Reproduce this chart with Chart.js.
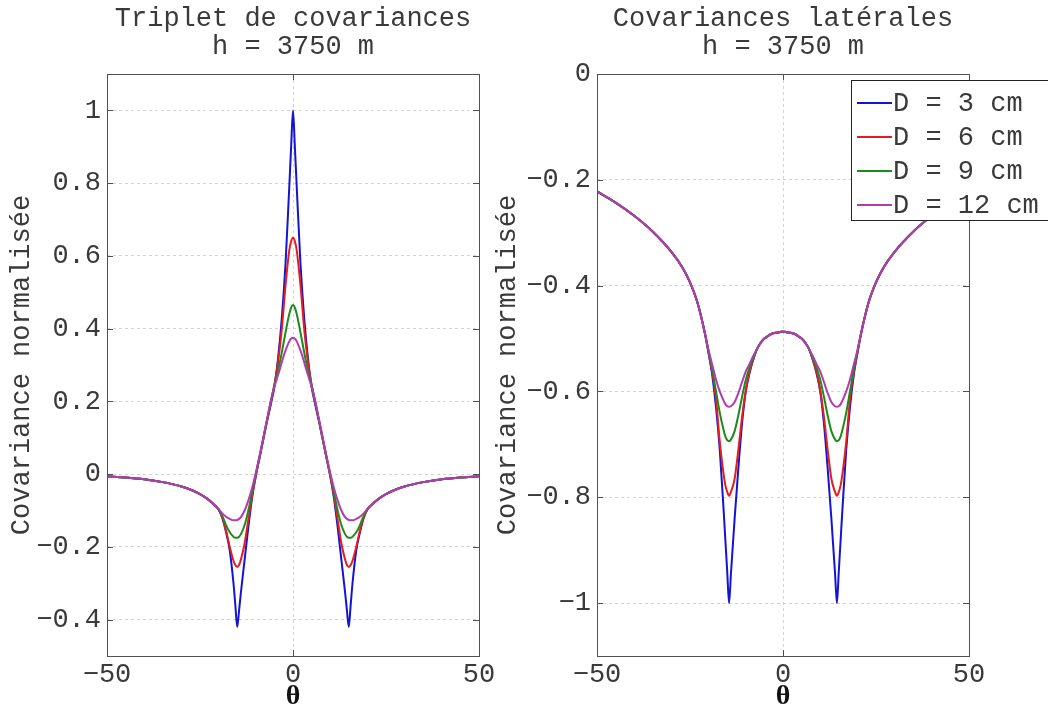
<!DOCTYPE html>
<html><head><meta charset="utf-8">
<script src="https://cdn.jsdelivr.net/npm/chart.js@4.4.1/dist/chart.umd.min.js"></script>
<style>
html,body{margin:0;padding:0;background:#fff;}
#wrap{position:relative;width:1048px;height:709px;overflow:hidden;background:#fff;}
canvas{position:absolute;top:0;}
</style>
</head><body>
<div id="wrap">
<canvas id="c1" width="524" height="709" style="left:0px"></canvas>
<canvas id="c2" width="568" height="709" style="left:480px"></canvas>
</div>
<script>
// ---------- data ----------
const theta = [-50,-45,-40,-35,-30,-27,-25,-23,-21,-20,-19,-18,-17,-16,-15.5,-15,-14.5,-14,-13,-12,-11,-10,-9,-8,-7,-6,-5,-4,-3,-2,-1,-0.5,0,
  0.5,1,2,3,4,5,6,7,8,9,10,11,12,13,14,14.5,15,15.5,16,17,18,19,20,21,23,25,27,30,35,40,45,50];

const seriesLabels = ['D = 3 cm','D = 6 cm','D = 9 cm','D = 12 cm'];
const seriesColors = ['#1414d2','#e41e1e','#1e8a1e','#b03cb0'];

// Left panel: triplet de covariances
const tripletD3 = [-0.006,-0.009,-0.014,-0.022,-0.034,-0.045,-0.055,-0.068,-0.086,-0.097,-0.12,-0.16,-0.21,-0.30,-0.36,-0.42,-0.375,-0.325,-0.235,-0.145,-0.065,-0.005,0.045,0.095,0.145,0.19,0.24,0.32,0.43,0.58,0.79,0.9,1.0,
  0.9,0.79,0.58,0.43,0.32,0.24,0.19,0.145,0.095,0.045,-0.005,-0.065,-0.145,-0.235,-0.325,-0.375,-0.42,-0.36,-0.30,-0.21,-0.16,-0.12,-0.097,-0.086,-0.068,-0.055,-0.045,-0.034,-0.022,-0.014,-0.009,-0.006];
const tripletD6 = [-0.006,-0.009,-0.014,-0.022,-0.034,-0.045,-0.055,-0.068,-0.086,-0.097,-0.12,-0.155,-0.2,-0.238,-0.25,-0.255,-0.25,-0.235,-0.19,-0.125,-0.06,-0.004,0.045,0.095,0.145,0.195,0.245,0.31,0.40,0.52,0.615,0.64,0.65,
  0.64,0.615,0.52,0.40,0.31,0.245,0.195,0.145,0.095,0.045,-0.004,-0.06,-0.125,-0.19,-0.235,-0.25,-0.255,-0.25,-0.238,-0.2,-0.155,-0.12,-0.097,-0.086,-0.068,-0.055,-0.045,-0.034,-0.022,-0.014,-0.009,-0.006];
const tripletD9 = [-0.006,-0.009,-0.014,-0.022,-0.034,-0.045,-0.055,-0.068,-0.086,-0.097,-0.115,-0.14,-0.16,-0.172,-0.175,-0.175,-0.172,-0.165,-0.14,-0.1,-0.05,0.0,0.047,0.097,0.147,0.198,0.245,0.285,0.335,0.39,0.44,0.458,0.465,
  0.458,0.44,0.39,0.335,0.285,0.245,0.198,0.147,0.097,0.047,0.0,-0.05,-0.1,-0.14,-0.165,-0.172,-0.175,-0.175,-0.172,-0.16,-0.14,-0.115,-0.097,-0.086,-0.068,-0.055,-0.045,-0.034,-0.022,-0.014,-0.009,-0.006];
const tripletD12 = [-0.006,-0.009,-0.014,-0.022,-0.034,-0.045,-0.055,-0.068,-0.086,-0.096,-0.108,-0.117,-0.123,-0.127,-0.127,-0.126,-0.123,-0.118,-0.1,-0.072,-0.038,0.003,0.05,0.1,0.15,0.2,0.24,0.273,0.308,0.34,0.365,0.372,0.375,
  0.372,0.365,0.34,0.308,0.273,0.24,0.2,0.15,0.1,0.05,0.003,-0.038,-0.072,-0.1,-0.118,-0.123,-0.126,-0.127,-0.127,-0.123,-0.117,-0.108,-0.096,-0.086,-0.068,-0.055,-0.045,-0.034,-0.022,-0.014,-0.009,-0.006];

// Right panel: covariances latérales
const lateralD3 = [-0.222,-0.243,-0.268,-0.298,-0.336,-0.366,-0.394,-0.432,-0.49,-0.528,-0.57,-0.63,-0.71,-0.82,-0.88,-0.94,-1.0,-0.945,-0.84,-0.745,-0.66,-0.6,-0.565,-0.54,-0.52,-0.508,-0.5,-0.495,-0.491,-0.489,-0.488,-0.487,-0.487,
  -0.487,-0.488,-0.489,-0.491,-0.495,-0.5,-0.508,-0.52,-0.54,-0.565,-0.6,-0.66,-0.745,-0.84,-0.945,-1.0,-0.94,-0.88,-0.82,-0.71,-0.63,-0.57,-0.528,-0.49,-0.432,-0.394,-0.366,-0.336,-0.298,-0.268,-0.243,-0.222];
const lateralD6 = [-0.222,-0.243,-0.268,-0.298,-0.336,-0.366,-0.394,-0.432,-0.49,-0.527,-0.565,-0.615,-0.695,-0.755,-0.777,-0.79,-0.797,-0.79,-0.765,-0.71,-0.648,-0.597,-0.563,-0.539,-0.52,-0.508,-0.5,-0.495,-0.491,-0.489,-0.488,-0.487,-0.487,
  -0.487,-0.488,-0.489,-0.491,-0.495,-0.5,-0.508,-0.52,-0.539,-0.563,-0.597,-0.648,-0.71,-0.765,-0.79,-0.797,-0.79,-0.777,-0.755,-0.695,-0.615,-0.565,-0.527,-0.49,-0.432,-0.394,-0.366,-0.336,-0.298,-0.268,-0.243,-0.222];
const lateralD9 = [-0.222,-0.243,-0.268,-0.298,-0.336,-0.366,-0.394,-0.432,-0.49,-0.525,-0.56,-0.6,-0.64,-0.672,-0.685,-0.692,-0.694,-0.691,-0.675,-0.645,-0.61,-0.578,-0.555,-0.537,-0.52,-0.508,-0.5,-0.495,-0.491,-0.489,-0.488,-0.487,-0.487,
  -0.487,-0.488,-0.489,-0.491,-0.495,-0.5,-0.508,-0.52,-0.537,-0.555,-0.578,-0.61,-0.645,-0.675,-0.691,-0.694,-0.692,-0.685,-0.672,-0.64,-0.6,-0.56,-0.525,-0.49,-0.432,-0.394,-0.366,-0.336,-0.298,-0.268,-0.243,-0.222];
const lateralD12 = [-0.222,-0.243,-0.268,-0.298,-0.336,-0.366,-0.394,-0.432,-0.49,-0.522,-0.55,-0.578,-0.6,-0.617,-0.624,-0.628,-0.629,-0.628,-0.62,-0.603,-0.582,-0.562,-0.548,-0.533,-0.52,-0.508,-0.5,-0.495,-0.491,-0.489,-0.488,-0.487,-0.487,
  -0.487,-0.488,-0.489,-0.491,-0.495,-0.5,-0.508,-0.52,-0.533,-0.548,-0.562,-0.582,-0.603,-0.62,-0.628,-0.629,-0.628,-0.624,-0.617,-0.6,-0.578,-0.55,-0.522,-0.49,-0.432,-0.394,-0.366,-0.336,-0.298,-0.268,-0.243,-0.222];

const xTicks = [-50, 0, 50];
const yTicksTriplet = [-0.4, -0.2, 0, 0.2, 0.4, 0.6, 0.8, 1];
const yTicksLateral = [-1, -0.8, -0.6, -0.4, -0.2, 0];
const titleTriplet = ['Triplet de covariances', 'h = 3750 m'];
const titleLateral = ['Covariances latérales', 'h = 3750 m'];
const yAxisTitle = 'Covariance normalisée';
const xAxisTitle = 'θ';

// ---------- rendering ----------
const MONO = '"Liberation Mono", "Courier New", monospace';
const TXT = '#3a3a3a';
const fmt = v => String(v).replace('-', '\u2212');

const decor = {
  id: 'decor',
  afterDraw(chart, args, o) {
    const {ctx, chartArea: a, scales: {x, y}} = chart;
    ctx.save();
    ctx.strokeStyle = '#505050';
    ctx.lineWidth = 1;
    const tl = 6;
    ctx.beginPath();
    for (const v of o.yTicks) {
      const py = Math.round(y.getPixelForValue(v)) + 0.5;
      ctx.moveTo(a.left, py); ctx.lineTo(a.left + tl, py);
      ctx.moveTo(a.right, py); ctx.lineTo(a.right - tl, py);
    }
    for (const v of o.xTicks) {
      const px = Math.round(x.getPixelForValue(v)) + 0.5;
      ctx.moveTo(px, a.bottom); ctx.lineTo(px, a.bottom - tl);
      ctx.moveTo(px, a.top); ctx.lineTo(px, a.top + tl);
    }
    ctx.stroke();
    ctx.strokeRect(Math.round(a.left) + 0.5, Math.round(a.top) + 0.5, Math.round(a.right - a.left), Math.round(a.bottom - a.top));
    // title
    ctx.fillStyle = TXT;
    ctx.font = '27px ' + MONO;
    ctx.textAlign = 'center';
    ctx.textBaseline = 'middle';
    const cx = (a.left + a.right) / 2;
    o.title.forEach((t, i) => ctx.fillText(t, cx, o.titleY[i]));
    // legend
    if (o.legend) {
      const L = o.legend;
      ctx.fillStyle = '#fff';
      ctx.fillRect(L.x, L.y, L.w, L.h);
      ctx.strokeStyle = '#222';
      ctx.strokeRect(L.x + 0.5, L.y + 0.5, L.w, L.h);
      ctx.font = '27px ' + MONO;
      ctx.textAlign = 'left';
      ctx.textBaseline = 'middle';
      chart.data.datasets.forEach((ds, i) => {
        const ry = L.rows[i];
        ctx.strokeStyle = ds.borderColor;
        ctx.lineWidth = 2;
        ctx.beginPath(); ctx.moveTo(L.lineX0, ry); ctx.lineTo(L.lineX1, ry); ctx.stroke();
        ctx.fillStyle = TXT;
        ctx.fillText(ds.label, L.textX, ry + 1);
      });
    }
    ctx.restore();
  }
};

function makeChart(canvasId, series, yMin, yMax, yTicks, title, cfg) {
  const datasets = series.map((vals, i) => ({
    label: seriesLabels[i],
    data: theta.map((t, k) => ({x: t, y: vals[k]})),
    borderColor: seriesColors[i],
    borderWidth: 2,
    pointRadius: 0,
    fill: false,
    cubicInterpolationMode: 'monotone',
    order: series.length - 1 - i
  }));
  return new Chart(document.getElementById(canvasId), {
    type: 'line',
    data: {datasets},
    options: {
      responsive: false,
      animation: false,
      events: [],
      layout: {padding: {left: 0, right: cfg.padRight, top: 74, bottom: 0}},
      plugins: {
        legend: {display: false},
        tooltip: {enabled: false},
        title: {display: false},
        decor: {yTicks, xTicks, title, titleY: [19, 47], legend: cfg.legend}
      },
      scales: {
        x: {
          type: 'linear', min: -50, max: 50,
          afterBuildTicks: s => { s.ticks = xTicks.map(v => ({value: v})); },
          afterFit: s => { s.height = 53; s.paddingLeft = 0; s.paddingRight = 0; },
          grid: {color: '#d4d4d4', lineWidth: 1, drawTicks: false},
          border: {display: false, dash: [3, 3]},
          ticks: {font: {family: MONO, size: 27}, color: TXT, padding: 3, maxRotation: 0, autoSkip: false, callback: v => fmt(v)},
          title: {display: true, text: xAxisTitle, color: '#111', font: {family: '"Liberation Serif", serif', size: 28, weight: 'bold', lineHeight: 0.85}, padding: {top: 0, bottom: 0}}
        },
        y: {
          type: 'linear', min: yMin, max: yMax,
          afterBuildTicks: s => { s.ticks = yTicks.map(v => ({value: v})); },
          afterFit: s => { s.width = cfg.yWidth; s.paddingTop = 0; s.paddingBottom = 0; },
          grid: {color: '#d4d4d4', lineWidth: 1, drawTicks: false},
          border: {display: false, dash: [3, 3]},
          ticks: {font: {family: MONO, size: 27}, color: TXT, padding: 6, autoSkip: false, callback: v => fmt(v)},
          title: {display: true, text: yAxisTitle, color: TXT, font: {family: MONO, size: 27}, padding: {top: cfg.yTitlePad, bottom: 0}}
        }
      }
    },
    plugins: [decor]
  });
}

makeChart('c1', [tripletD3, tripletD6, tripletD9, tripletD12], -0.5, 1.1, yTicksTriplet, titleTriplet,
  {padRight: 45, yWidth: 107, yTitlePad: 6, legend: null});
makeChart('c2', [lateralD3, lateralD6, lateralD9, lateralD12], -1.1, 0, yTicksLateral, titleLateral,
  {padRight: 79, yWidth: 117, yTitlePad: 12,
   legend: {x: 371, y: 80, w: 220, h: 140, lineX0: 377, lineX1: 412, textX: 413, rows: [103, 137, 171, 205]}});
</script>
</body></html>
